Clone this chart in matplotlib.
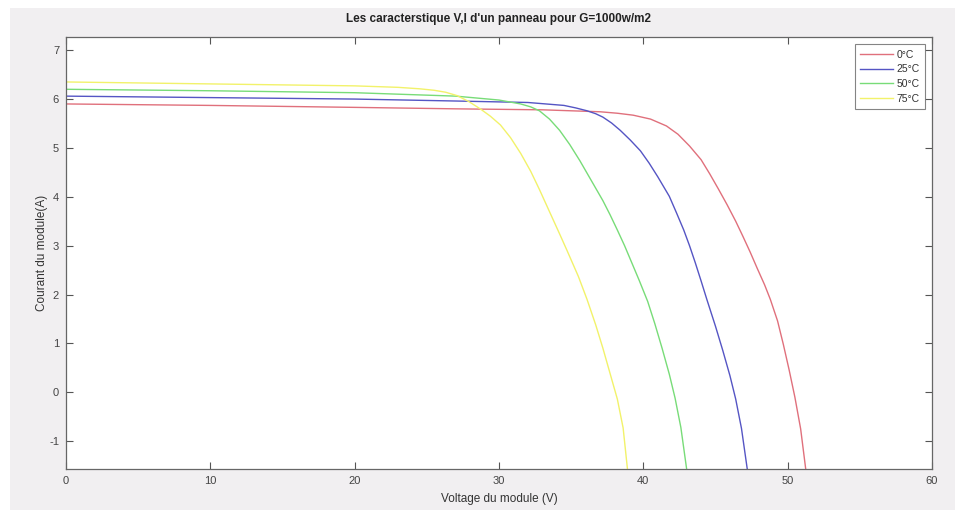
import matplotlib
matplotlib.use("Agg")
import matplotlib.pyplot as plt
from matplotlib.patches import Rectangle

# Data (Voltage V, Current A)
V_0C = [0, 10, 20, 27, 33, 35, 37, 38.2, 39.3, 40.5, 41.6, 42.4, 43.2, 44.0, 44.6, 45.2, 45.8,
        46.4, 46.9, 47.4, 47.9, 48.4, 48.8, 49.3, 49.7, 50.1, 50.5, 50.9, 51.25]
I_0C = [5.90, 5.87, 5.83, 5.80, 5.78, 5.76, 5.74, 5.71, 5.67, 5.59, 5.45, 5.28, 5.04, 4.76, 4.47,
        4.16, 3.84, 3.50, 3.19, 2.87, 2.53, 2.20, 1.90, 1.46, 0.98, 0.46, -0.10, -0.75, -1.57]

V_25C = [0, 10, 20, 27, 32, 34.5, 35.3, 36.1, 36.7, 37.2, 37.8, 38.4, 39.1, 39.8, 40.4, 41.0,
         41.8, 42.3, 42.8, 43.2, 43.6, 44.0, 44.4, 45.0, 45.5, 46.0, 46.4, 46.8, 47.2]
I_25C = [6.06, 6.03, 6.00, 5.96, 5.93, 5.87, 5.82, 5.76, 5.70, 5.63, 5.51, 5.36, 5.16, 4.94, 4.69,
         4.41, 4.01, 3.67, 3.32, 3.00, 2.65, 2.28, 1.90, 1.35, 0.86, 0.34, -0.14, -0.74, -1.57]

V_50C = [0, 10, 20, 27, 30, 31.5, 32.2, 32.8, 33.5, 34.2, 34.9, 35.6, 36.4, 37.2, 37.7, 38.2,
         38.7, 39.1, 39.7, 40.3, 40.8, 41.3, 41.8, 42.2, 42.6, 43.0]
I_50C = [6.20, 6.17, 6.13, 6.06, 5.98, 5.90, 5.84, 5.76, 5.59, 5.36, 5.07, 4.74, 4.33, 3.92, 3.63,
         3.32, 3.00, 2.72, 2.30, 1.86, 1.40, 0.90, 0.37, -0.12, -0.72, -1.57]

V_75C = [0, 10, 20, 23, 24.5, 25.5, 26.3, 27.1, 27.9, 28.7, 29.4, 30.1, 30.8, 31.5, 32.2, 32.8,
         33.6, 34.2, 34.7, 35.5, 36.1, 36.7, 37.2, 37.7, 38.2, 38.6, 38.9]
I_75C = [6.35, 6.31, 6.27, 6.24, 6.21, 6.18, 6.14, 6.07, 5.95, 5.80, 5.65, 5.47, 5.21, 4.89, 4.52,
         4.15, 3.63, 3.24, 2.91, 2.37, 1.90, 1.38, 0.90, 0.38, -0.14, -0.73, -1.57]

labels = ["0\u00b0C", "25\u00b0C", "50\u00b0C", "75\u00b0C"]
colors = ["#e0707c", "#5555c4", "#78dc78", "#f2f26a"]
x_ticks = [0, 10, 20, 30, 40, 50, 60]
y_ticks = [-1, 0, 1, 2, 3, 4, 5, 6, 7]

plt.rcParams['font.family'] = ['Liberation Sans', 'DejaVu Sans']
plt.rcParams['axes.unicode_minus'] = False

fig = plt.figure(figsize=(9.59, 5.14), dpi=100, facecolor="white")
bg = Rectangle((10 / 959, 1 - 510 / 514), 945 / 959, 502 / 514,
               transform=fig.transFigure, facecolor="#f1eff1",
               edgecolor="none", zorder=-10)
fig.add_artist(bg)
ax = fig.add_axes([66 / 959, 1 - 469 / 514, 866 / 959, 432 / 514])
ax.set_zorder(1)
ax.set_facecolor("white")

series = [(V_0C, I_0C), (V_25C, I_25C), (V_50C, I_50C), (V_75C, I_75C)]
for (v, i), lab, col in zip(series, labels, colors):
    ax.plot(v, i, color=col, lw=1.0, label=lab, solid_joinstyle="round")

ax.set_xlim(0, 60)
ax.set_ylim(-1.57, 7.27)
ax.set_xticks(x_ticks)
ax.set_yticks(y_ticks)
ax.tick_params(direction="in", top=True, right=True, length=5, width=0.8,
               labelsize=8, colors="#555555", labelcolor="#444444", pad=5)
for s in ax.spines.values():
    s.set_color("#666666")
    s.set_linewidth(0.9)

ax.set_title("Les caracterstique V,I d'un panneau pour G=1000w/m2",
             fontsize=8.5, fontweight="bold", color="#222222", pad=11)
ax.set_xlabel("Voltage du module (V)", fontsize=8.5, color="#333333", labelpad=5)
ax.set_ylabel("Courant du module(A)", fontsize=8.5, color="#333333", labelpad=1)

leg = ax.legend(loc="upper right", fontsize=7.5, frameon=True, fancybox=False,
                borderaxespad=0.7, handlelength=3.2, handletextpad=0.3,
                labelspacing=0.45, borderpad=0.5)
leg.get_frame().set_edgecolor("#666666")
leg.get_frame().set_linewidth(0.8)
for t in leg.get_texts():
    t.set_color("#333333")

fig.savefig("out.png", dpi=100, facecolor=fig.get_facecolor())
